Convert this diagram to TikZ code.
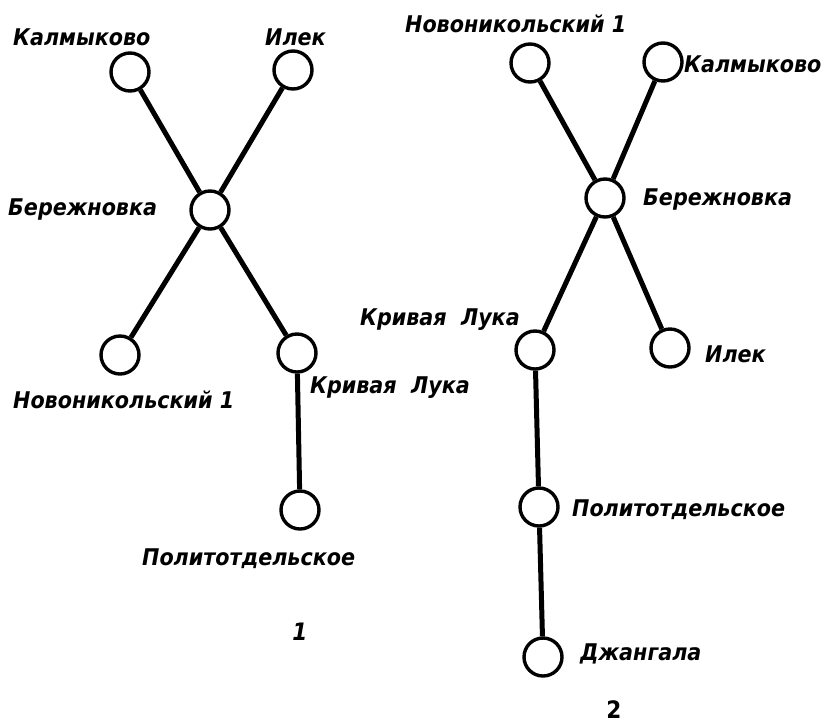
\documentclass[tikz,border=0pt]{standalone}
\usepackage{fontspec}
\setmainfont{DejaVu Sans}
\newfontfamily\lblfont{DejaVu Sans Condensed Bold Oblique}
\newfontfamily\numfont{DejaVu Sans Condensed Bold}
\begin{document}
\begin{tikzpicture}[x=1pt,y=-1pt,
  town/.style={circle,draw,line width=3.4pt,minimum size=38pt,inner sep=0pt},
  link/.style={line width=5pt},
  lbl/.style={inner sep=0pt,anchor=base west,font=\lblfont\fontsize{23}{23}\selectfont},
  num/.style={inner sep=0pt,anchor=base,font=\lblfont\fontsize{24}{24}\selectfont}]
\useasboundingbox (0,0) rectangle (829,724);
% tree 1
\node[town] (k1) at (130,72) {};
\node[town] (i1) at (293,70) {};
\node[town] (b1) at (210,210) {};
\node[town] (n1) at (120,355) {};
\node[town] (kl1) at (297,353) {};
\node[town] (p1) at (300,510) {};
\draw[link] (k1) -- (b1);
\draw[link] (i1) -- (b1);
\draw[link] (b1) -- (n1);
\draw[link] (b1) -- (kl1);
\draw[link] (kl1) -- (p1);
\node[lbl] (tk1) at (13,45) {Калмыково};
\node[lbl] (ti1) at (265,45) {Илек};
\node[lbl] (tb1) at (8,215) {Бережновка};
\node[lbl] (tn1) at (13,408) {Новоникольский 1};
\node[lbl] (tkl1) at (310,393) {Кривая\ \ Лука};
\node[lbl] (tp1) at (142,565) {Политотдельское};
\node[num] (c1) at (300,640) {1};
% tree 2
\node[town] (n2) at (530,63) {};
\node[town] (k2) at (663,62) {};
\node[town] (b2) at (605,198) {};
\node[town] (kl2) at (535,350) {};
\node[town] (i2) at (670,348) {};
\node[town] (p2) at (539,507) {};
\node[town] (d2) at (543,657) {};
\draw[link] (n2) -- (b2);
\draw[link] (k2) -- (b2);
\draw[link] (b2) -- (kl2);
\draw[link] (b2) -- (i2);
\draw[link] (kl2) -- (p2);
\draw[link] (p2) -- (d2);
\node[lbl] (tn2) at (405,32) {Новоникольский 1};
\node[lbl] (tk2) at (684,72) {Калмыково};
\node[lbl] (tb2) at (643,205) {Бережновка};
\node[lbl,anchor=base east] (tkl2) at (520,325) {Кривая\ \ Лука};
\node[lbl] (ti2) at (705,362) {Илек};
\node[lbl] (tp2) at (572,516) {Политотдельское};
\node[lbl] (td2) at (580,660) {Джангала};
\node[num,font=\numfont\fontsize{24}{24}\selectfont] (c2) at (614,718) {2};
\end{tikzpicture}
\end{document}
